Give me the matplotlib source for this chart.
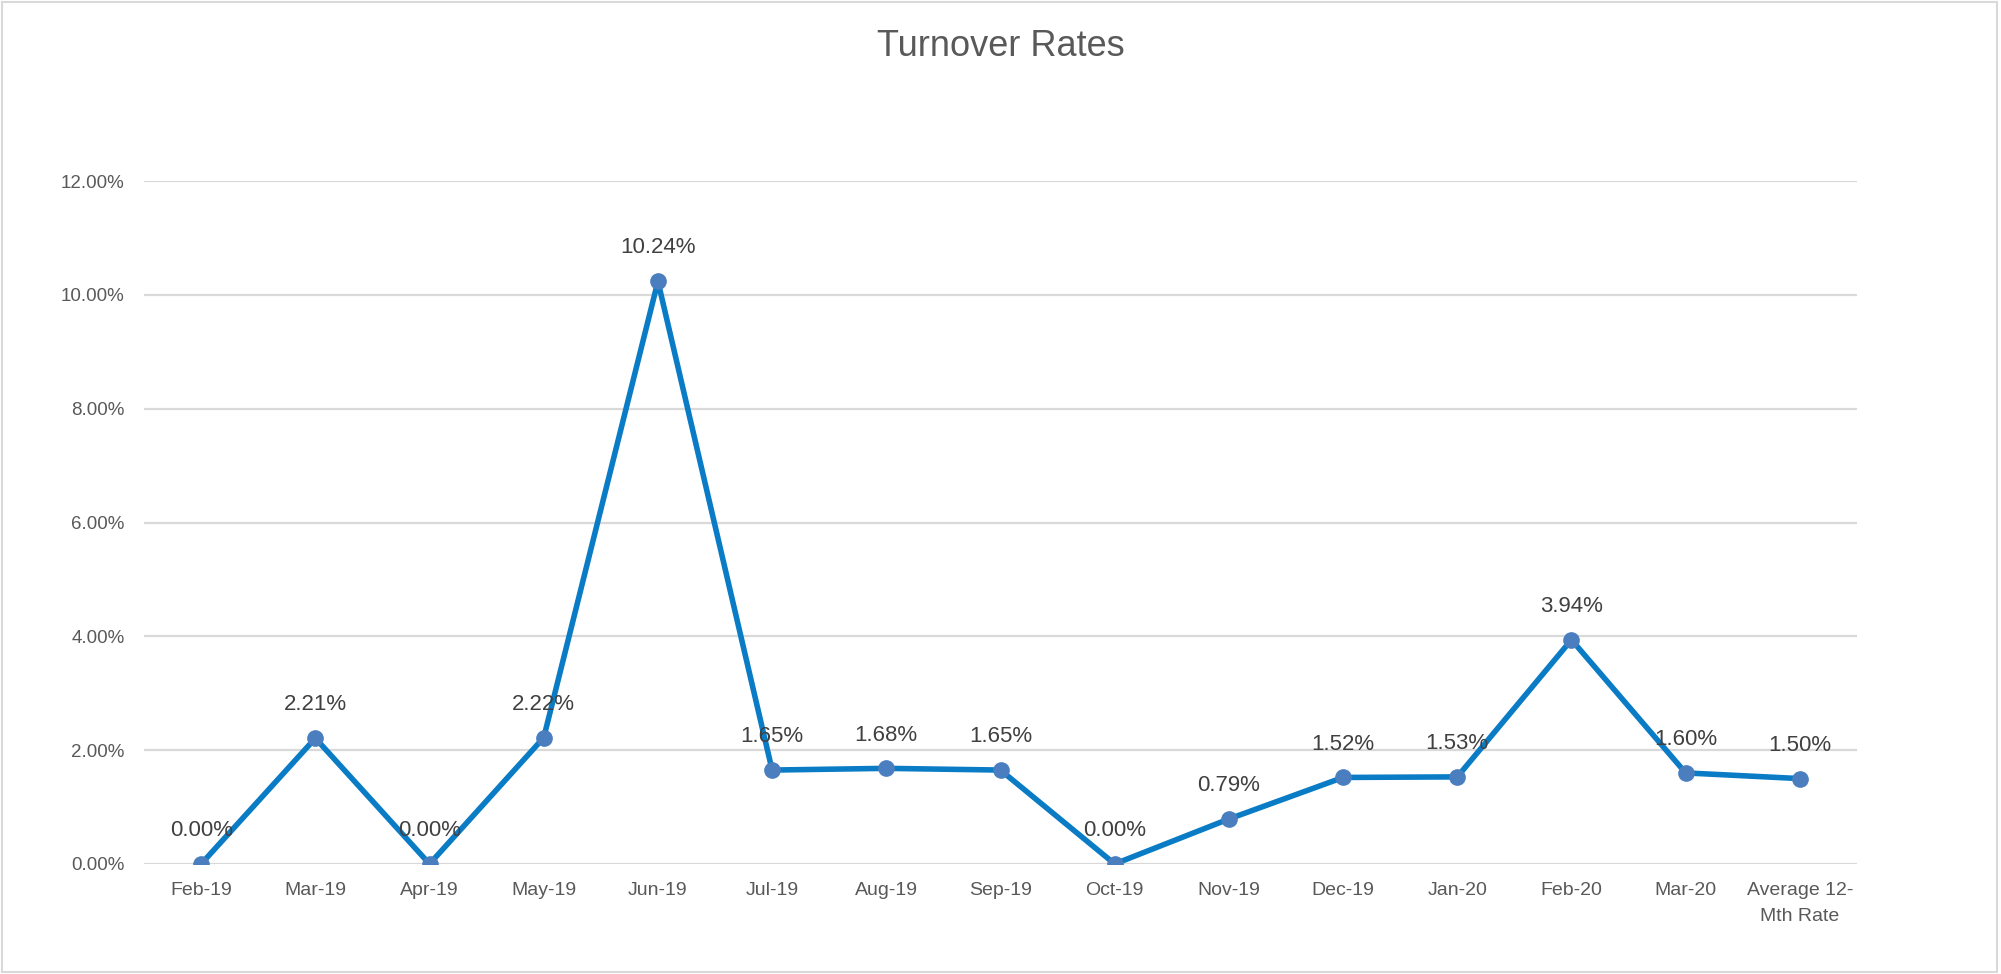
import matplotlib
matplotlib.use('Agg')
from matplotlib import pyplot as plt
from matplotlib.patches import Rectangle
from matplotlib.ticker import FuncFormatter

months = ['Feb-19', 'Mar-19', 'Apr-19', 'May-19', 'Jun-19', 'Jul-19', 'Aug-19',
          'Sep-19', 'Oct-19', 'Nov-19', 'Dec-19', 'Jan-20', 'Feb-20', 'Mar-20',
          'Average 12-\nMth Rate']
rates = [0.00, 2.21, 0.00, 2.22, 10.24, 1.65, 1.68, 1.65, 0.00, 0.79, 1.52, 1.53,
         3.94, 1.60, 1.50]
y_ticks = [0, 2, 4, 6, 8, 10, 12]

plt.rcParams['font.family'] = ['Liberation Sans', 'DejaVu Sans']

fig = plt.figure(figsize=(20.01, 9.74), dpi=100)
ax = fig.add_axes([0.072, 0.113, 0.856, 0.701])

x = list(range(len(months)))
ax.plot(x, rates, color='#0A7BC5', linewidth=4.0, zorder=3,
        marker='o', markersize=11, markerfacecolor='#4A7EBF',
        markeredgecolor='#4A7EBF')

for xi, v in zip(x, rates):
    ax.annotate(f'{v:.2f}%', (xi, v), xytext=(0, 24), textcoords='offset points',
                ha='center', va='center', fontsize=16, color='#404040', zorder=4)

ax.set_xlim(-0.5, len(months) - 0.5)
ax.set_ylim(0, 12)
ax.set_yticks(y_ticks)
ax.yaxis.set_major_formatter(FuncFormatter(lambda v, p: f'{v:.2f}%'))
ax.set_xticks(x)
ax.set_xticklabels(months, linespacing=1.7)
ax.tick_params(axis='y', length=0, pad=14, labelsize=13.5, labelcolor='#595959')
ax.tick_params(axis='x', length=0, pad=13, labelsize=14, labelcolor='#595959')
ax.grid(axis='y', color='#D9D9D9', linewidth=1.6, zorder=0)
ax.set_axisbelow(True)
for s in ax.spines.values():
    s.set_visible(False)

fig.text(0.5, 0.952, 'Turnover Rates', ha='center', va='center', fontsize=26,
         color='#595959')

fig.patches.append(Rectangle((0.001, 0.002), 0.997, 0.996, transform=fig.transFigure,
                             fill=False, edgecolor='#D9D9D9', linewidth=1.5))

fig.savefig('out.png', dpi=100)
